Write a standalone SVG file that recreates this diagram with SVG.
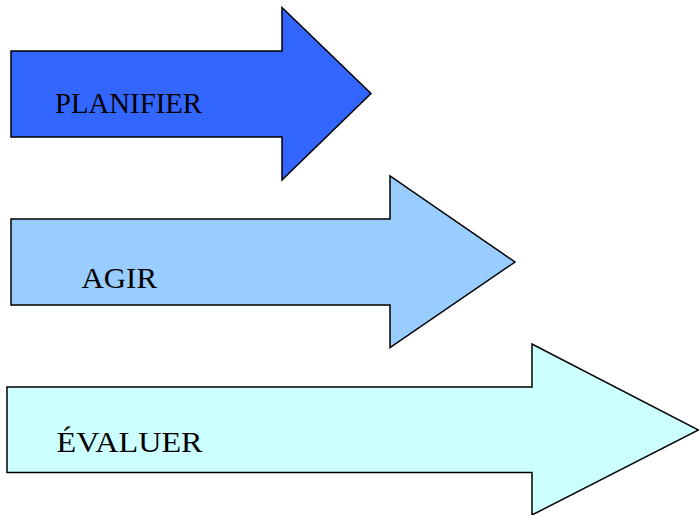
<svg xmlns="http://www.w3.org/2000/svg" width="699" height="515" viewBox="0 0 699 515">
<style>
.a{stroke:#000;stroke-width:1.5;stroke-linejoin:miter}
.t{font-family:"Liberation Serif","Times New Roman",serif;font-size:28.5px;fill:#000}
</style>
<rect width="699" height="515" fill="#fff"/>
<g id="planifier">
<polygon class="a" fill="#3366FF" points="11,51 282,51 282,7.5 371,93.5 282,180 282,137 11,137"/>
<text class="t" x="55" y="113" textLength="147" lengthAdjust="spacingAndGlyphs">PLANIFIER</text>
</g>
<g id="agir">
<polygon class="a" fill="#99CCFF" points="11,219 390,219 390,176 515,262 390,347.5 390,305 11,305"/>
<text class="t" x="81.5" y="287.5" textLength="75.5" lengthAdjust="spacingAndGlyphs">AGIR</text>
</g>
<g id="evaluer">
<polygon class="a" fill="#CCFFFF" points="7,387 532,387 532,344 698.5,430 532,515 532,472.5 7,472.5"/>
<text class="t" x="56.5" y="452" textLength="146" lengthAdjust="spacingAndGlyphs">ÉVALUER</text>
</g>
<g id="connectors"/>
</svg>
